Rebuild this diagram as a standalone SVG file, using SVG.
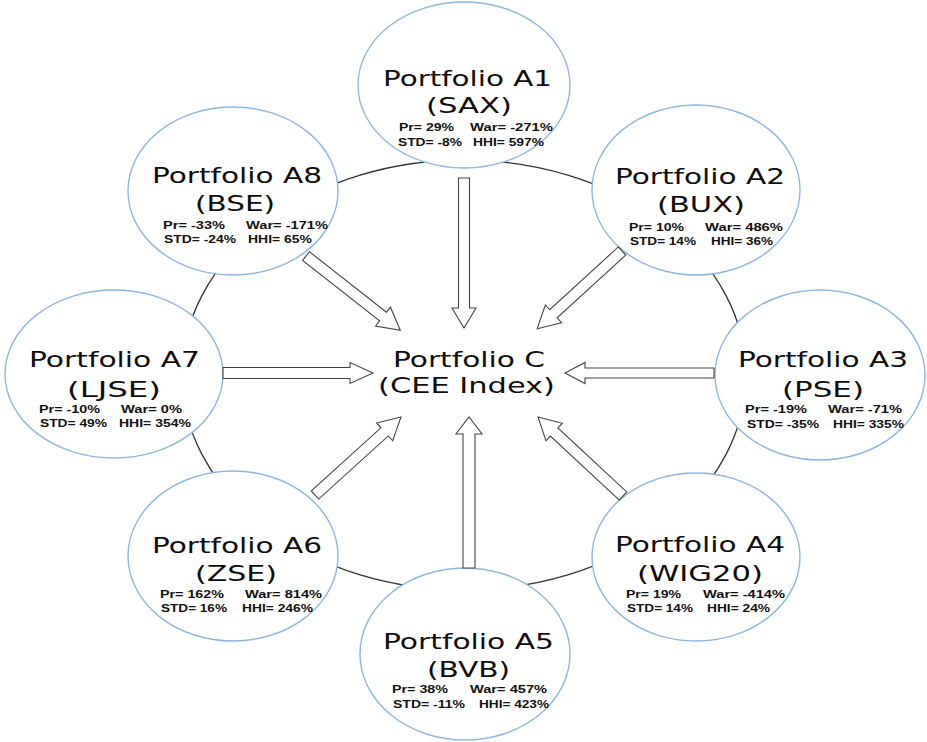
<svg xmlns="http://www.w3.org/2000/svg" width="927" height="742" viewBox="0 0 927 742">
<defs>
<style>
.bg{fill:#fff}
.ring{fill:none;stroke:#333;stroke-width:1.3}
.node{fill:#fff;stroke:#8fb6e0;stroke-width:1.4}
.t{font-family:"DejaVu Sans",Verdana,sans-serif;font-size:22px;fill:#0d0d0d}
.s{font-family:"Liberation Sans",Arial,sans-serif;font-size:10.5px;font-weight:bold;fill:#111}
.arr{fill:#fff;stroke:#444;stroke-width:1.1;stroke-linejoin:miter}
</style>
</defs>
<rect class="bg" width="927" height="742"/>
<ellipse class="ring" cx="464" cy="375" rx="282" ry="215"/>

<g id="A1">
<ellipse class="node" cx="464" cy="85" rx="106" ry="83"/>
<text class="t" x="383" y="86" textLength="169" lengthAdjust="spacingAndGlyphs">Portfolio A1</text>
<text class="t" x="426" y="113" textLength="86" lengthAdjust="spacingAndGlyphs">(SAX)</text>
<text class="s" x="399" y="130.7" textLength="55" lengthAdjust="spacingAndGlyphs">Pr= 29%</text>
<text class="s" x="470" y="130.7" textLength="83" lengthAdjust="spacingAndGlyphs">War= -271%</text>
<text class="s" x="398" y="145.7" textLength="64" lengthAdjust="spacingAndGlyphs">STD= -8%</text>
<text class="s" x="473" y="145.7" textLength="71" lengthAdjust="spacingAndGlyphs">HHI= 597%</text>
</g>

<g id="A2">
<ellipse class="node" cx="696" cy="190" rx="104" ry="85"/>
<text class="t" x="615" y="184" textLength="170" lengthAdjust="spacingAndGlyphs">Portfolio A2</text>
<text class="t" x="657" y="211.5" textLength="88" lengthAdjust="spacingAndGlyphs">(BUX)</text>
<text class="s" x="629" y="230.7" textLength="55" lengthAdjust="spacingAndGlyphs">Pr= 10%</text>
<text class="s" x="705" y="230.7" textLength="78" lengthAdjust="spacingAndGlyphs">War= 486%</text>
<text class="s" x="630" y="245" textLength="66" lengthAdjust="spacingAndGlyphs">STD= 14%</text>
<text class="s" x="711" y="245" textLength="62" lengthAdjust="spacingAndGlyphs">HHI= 36%</text>
</g>

<g id="A3">
<ellipse class="node" cx="820" cy="375" rx="105" ry="85"/>
<text class="t" x="738" y="367.3" textLength="170" lengthAdjust="spacingAndGlyphs">Portfolio A3</text>
<text class="t" x="782" y="397.3" textLength="82" lengthAdjust="spacingAndGlyphs">(PSE)</text>
<text class="s" x="745" y="413.3" textLength="62" lengthAdjust="spacingAndGlyphs">Pr= -19%</text>
<text class="s" x="828" y="413.3" textLength="74" lengthAdjust="spacingAndGlyphs">War= -71%</text>
<text class="s" x="747" y="427.7" textLength="72" lengthAdjust="spacingAndGlyphs">STD= -35%</text>
<text class="s" x="833" y="427.7" textLength="71" lengthAdjust="spacingAndGlyphs">HHI= 335%</text>
</g>

<g id="A4">
<ellipse class="node" cx="696" cy="557" rx="104" ry="84"/>
<text class="t" x="615" y="551.7" textLength="170" lengthAdjust="spacingAndGlyphs">Portfolio A4</text>
<text class="t" x="637" y="581" textLength="126" lengthAdjust="spacingAndGlyphs">(WIG20)</text>
<text class="s" x="626" y="598.3" textLength="55" lengthAdjust="spacingAndGlyphs">Pr= 19%</text>
<text class="s" x="703" y="598.3" textLength="82" lengthAdjust="spacingAndGlyphs">War= -414%</text>
<text class="s" x="627" y="611.7" textLength="66" lengthAdjust="spacingAndGlyphs">STD= 14%</text>
<text class="s" x="707" y="611.7" textLength="63" lengthAdjust="spacingAndGlyphs">HHI= 24%</text>
</g>

<g id="A5">
<ellipse class="node" cx="465" cy="654" rx="105" ry="86"/>
<text class="t" x="383" y="649.3" textLength="171" lengthAdjust="spacingAndGlyphs">Portfolio A5</text>
<text class="t" x="427" y="677.3" textLength="83" lengthAdjust="spacingAndGlyphs">(BVB)</text>
<text class="s" x="392" y="693.3" textLength="56" lengthAdjust="spacingAndGlyphs">Pr= 38%</text>
<text class="s" x="470" y="693.3" textLength="77" lengthAdjust="spacingAndGlyphs">War= 457%</text>
<text class="s" x="393" y="708.3" textLength="72" lengthAdjust="spacingAndGlyphs">STD= -11%</text>
<text class="s" x="479" y="708.3" textLength="70" lengthAdjust="spacingAndGlyphs">HHI= 423%</text>
</g>

<g id="A6">
<ellipse class="node" cx="233" cy="556" rx="105" ry="85"/>
<text class="t" x="152" y="552.7" textLength="170" lengthAdjust="spacingAndGlyphs">Portfolio A6</text>
<text class="t" x="195" y="581" textLength="82" lengthAdjust="spacingAndGlyphs">(ZSE)</text>
<text class="s" x="160" y="598.3" textLength="64" lengthAdjust="spacingAndGlyphs">Pr= 162%</text>
<text class="s" x="245" y="598.3" textLength="77" lengthAdjust="spacingAndGlyphs">War= 814%</text>
<text class="s" x="161" y="611.7" textLength="66" lengthAdjust="spacingAndGlyphs">STD= 16%</text>
<text class="s" x="242" y="611.7" textLength="71" lengthAdjust="spacingAndGlyphs">HHI= 246%</text>
</g>

<g id="A7">
<ellipse class="node" cx="114" cy="374" rx="109" ry="84"/>
<text class="t" x="29" y="367.3" textLength="171" lengthAdjust="spacingAndGlyphs">Portfolio A7</text>
<text class="t" x="67" y="396.7" textLength="94" lengthAdjust="spacingAndGlyphs">(LJSE)</text>
<text class="s" x="39" y="412.7" textLength="61" lengthAdjust="spacingAndGlyphs">Pr= -10%</text>
<text class="s" x="121" y="412.7" textLength="61" lengthAdjust="spacingAndGlyphs">War= 0%</text>
<text class="s" x="40" y="426.7" textLength="67" lengthAdjust="spacingAndGlyphs">STD= 49%</text>
<text class="s" x="119" y="426.7" textLength="72" lengthAdjust="spacingAndGlyphs">HHI= 354%</text>
</g>

<g id="A8">
<ellipse class="node" cx="233" cy="191" rx="105" ry="84"/>
<text class="t" x="152" y="182.7" textLength="170" lengthAdjust="spacingAndGlyphs">Portfolio A8</text>
<text class="t" x="195" y="211" textLength="80" lengthAdjust="spacingAndGlyphs">(BSE)</text>
<text class="s" x="163" y="229.3" textLength="62" lengthAdjust="spacingAndGlyphs">Pr= -33%</text>
<text class="s" x="246" y="229.3" textLength="82" lengthAdjust="spacingAndGlyphs">War= -171%</text>
<text class="s" x="164" y="243.3" textLength="72" lengthAdjust="spacingAndGlyphs">STD= -24%</text>
<text class="s" x="248" y="243.3" textLength="64" lengthAdjust="spacingAndGlyphs">HHI= 65%</text>
</g>

<g id="C">
<text class="t" x="393" y="367.3" textLength="152" lengthAdjust="spacingAndGlyphs">Portfolio C</text>
<text class="t" x="378" y="393.3" textLength="177" lengthAdjust="spacingAndGlyphs">(CEE Index)</text>
</g>

<g id="connectors">
<path class="arr" transform="translate(464,178) rotate(90)" d="M0,-5.5 H130 V-12 L150,0 L130,12 V5.5 H0 Z"/>
<path class="arr" transform="translate(469,568) rotate(-90)" d="M0,-6 H134 V-13 L151,0 L134,13 V6 H0 Z"/>
<path class="arr" transform="translate(223,373) rotate(0)" d="M0,-5.5 H127 V-10.5 L150,0 L127,10.5 V5.5 H0 Z"/>
<path class="arr" transform="translate(714,373) rotate(180)" d="M0,-5 H129 V-10.5 L149,0 L129,10.5 V5 H0 Z"/>
<path class="arr" transform="translate(306,256) rotate(38.2)" d="M0,-5.5 H98 V-12 L120,0 L98,12 V5.5 H0 Z"/>
<path class="arr" transform="translate(622,251) rotate(137.5)" d="M0,-5.5 H93 V-12 L115,0 L93,12 V5.5 H0 Z"/>
<path class="arr" transform="translate(315,495) rotate(-42.2)" d="M0,-5.5 H94 V-12 L116,0 L94,12 V5.5 H0 Z"/>
<path class="arr" transform="translate(623,496) rotate(-137.1)" d="M0,-5.5 H94 V-12 L116,0 L94,12 V5.5 H0 Z"/>
</g>
</svg>
